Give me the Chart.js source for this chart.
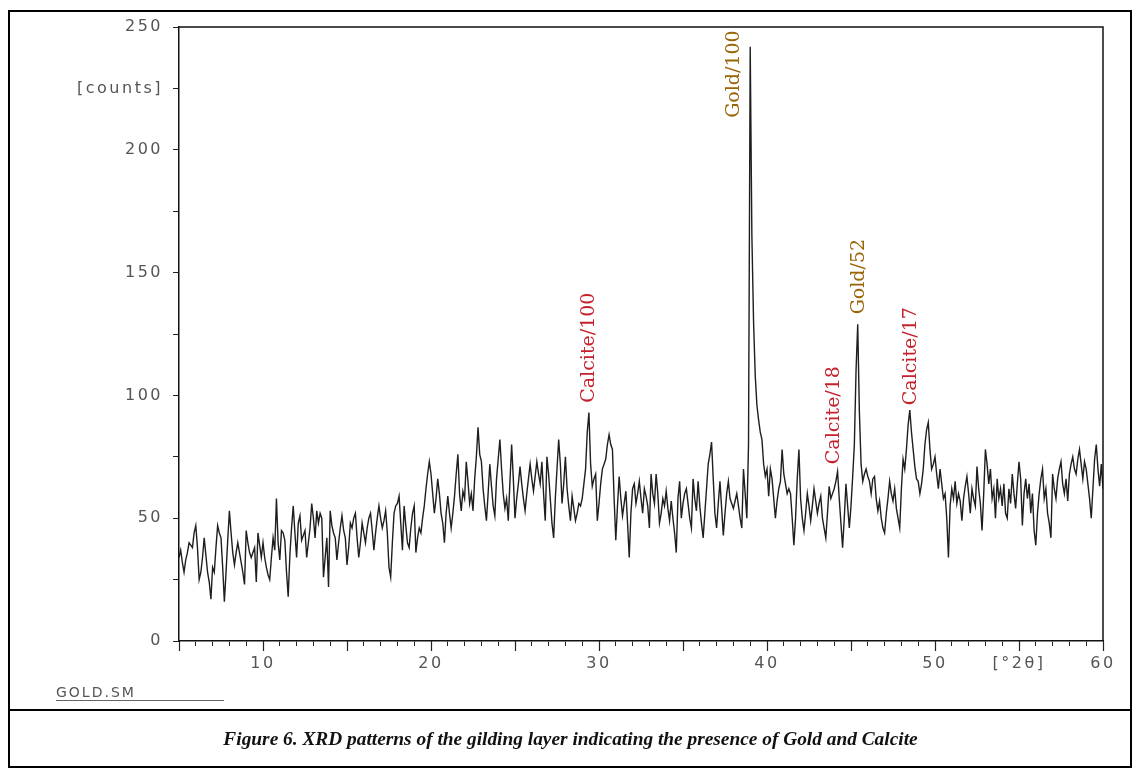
<!DOCTYPE html>
<html><head><meta charset="utf-8">
<script src="https://cdn.jsdelivr.net/npm/chart.js@4.4.1/dist/chart.umd.min.js"></script>
<style>
html,body{margin:0;padding:0;background:#fff;width:1141px;height:769px;overflow:hidden}
#wrap{position:absolute;left:0;top:0;width:1141px;height:769px}
#frame{position:absolute;left:8px;top:10px;width:1120px;height:754px;border:2px solid #000;pointer-events:none}
#divider{position:absolute;left:8px;top:709px;width:1124px;height:2px;background:#000}
#caption{position:absolute;left:0;top:711px;width:1141px;height:56px;line-height:56px;text-align:center;font-style:italic;font-weight:bold;font-family:"Liberation Serif",serif;color:#111}
#fname{position:absolute;left:56px;top:685px;width:168px;border-bottom:1px solid #666;font:14px "DejaVu Sans",sans-serif;color:#555;letter-spacing:2px;line-height:15px}
</style>
</head><body>
<div id="wrap"><canvas id="c" width="1141" height="769"></canvas></div>
<div id="frame"></div>
<div id="divider"></div>
<div id="fname">GOLD.SM</div>
<div id="caption"></div>
<script>
// ---- data ----
const twoThetaStart = 5;      // first sample, °2θ
const twoThetaStep = 0.1;     // sampling step, °2θ
const counts = [
  34,37,32,28,33,36,40,39,38,44,   // 5
  47,38,25,28,34,42,35,28,24,17,   // 6
  30,28,38,47,44,42,30,16,28,41,   // 7
  53,44,36,31,36,40,36,32,28,23,   // 8
  45,40,36,34,36,38,24,44,39,34,   // 9
  40,34,30,27,25,34,42,37,58,40,   // 10
  33,45,44,41,28,18,35,46,55,44,   // 11
  34,48,51,41,43,45,34,40,46,56,   // 12
  50,42,53,48,52,50,26,34,42,22,   // 13
  53,47,44,42,33,40,46,51,45,42,   // 14
  31,38,48,46,50,52,42,34,40,48,   // 15
  44,40,46,50,52,45,37,44,50,55,   // 16
  50,46,49,53,44,30,26,40,52,55,   // 17
  56,59,48,37,55,47,40,38,46,52,   // 18
  55,36,42,46,44,50,55,62,68,73,   // 19
  68,60,52,58,66,60,52,48,40,52,   // 20
  59,52,46,52,59,68,76,60,53,61,   // 21
  58,73,65,56,60,53,66,75,87,76,   // 22
  73,62,55,49,60,72,63,55,51,66,   // 23
  74,82,70,60,54,58,49,65,80,66,   // 24
  50,58,64,71,64,58,53,60,66,72,   // 25
  66,61,67,73,68,64,73,60,49,75,   // 26
  68,58,48,42,58,70,82,72,56,64,   // 27
  75,62,55,49,59,54,49,52,56,55,   // 28
  58,64,70,85,93,72,63,66,68,49,   // 29
  56,64,70,72,74,80,84,80,78,58,   // 30
  41,55,67,58,51,56,61,48,34,52,   // 31
  62,64,56,60,65,58,52,62,59,55,   // 32
  46,68,60,56,68,60,48,52,58,55,   // 33
  61,54,49,57,50,44,36,58,65,50,   // 34
  56,60,62,56,50,46,66,58,53,65,   // 35
  55,48,42,52,62,72,76,81,66,52,   // 36
  46,56,65,54,43,52,60,65,58,56,   // 37
  54,57,60,55,50,46,70,60,50,80,   // 38
  242,165,130,108,96,90,85,82,72,67, // 39
  70,59,70,66,58,50,57,62,65,78,   // 40
  68,64,60,62,60,50,39,50,66,78,   // 41
  58,50,45,52,60,55,49,55,62,57,   // 42
  52,56,59,50,46,42,52,63,58,60,   // 43
  62,65,69,58,48,38,50,64,55,46,   // 44
  55,67,80,110,129,93,72,65,68,70, // 45
  67,65,60,66,67,58,53,57,50,46,   // 46
  44,52,58,65,60,57,62,54,50,46,   // 47
  62,74,70,78,88,94,85,78,71,66,   // 48
  65,60,64,70,80,86,89,78,70,72,   // 49
  75,68,62,70,64,58,60,50,34,55,   // 50
  62,58,65,56,60,57,49,58,63,67,   // 51
  60,52,62,58,55,71,62,56,45,60,   // 52
  78,72,64,70,58,62,50,66,58,62,   // 53
  55,64,52,50,62,56,68,60,54,64,   // 54
  73,66,47,60,66,58,64,52,60,45,   // 55
  39,52,60,66,70,58,62,52,48,42,   // 56
  68,62,58,66,70,73,64,60,66,57,   // 57
  68,72,75,70,68,74,78,72,66,73,   // 58
  70,64,58,50,62,74,80,70,63,72,   // 59
  62                               // 60
];
const xTickLabels = {10:'10',20:'20',30:'30',40:'40',50:'50',55:'[°2θ]',60:'60'};
const yTickLabels = {0:'0',50:'50',100:'100',150:'150',200:'200',225:'[counts]',250:'250'};
const peakNames = ['Calcite/100','Gold/100','Calcite/18','Gold/52','Calcite/17'];
const peakTwoTheta = [29.4, 38.05, 44.0, 45.5, 48.6];
const peakLabelBase = [97, 213, 72, 133, 96];
const peakPhase = ['calcite','gold','calcite','gold','calcite'];
const captionText = 'Figure 6. XRD patterns of the gilding layer indicating the presence of Gold and Calcite';

// ---- build ----
const points = counts.map((v,i)=>({x: +(twoThetaStart + i*twoThetaStep).toFixed(2), y: v}));
const phaseColor = {calcite:'#c4222c', gold:'#9a6508'};

const cap = document.getElementById('caption');
cap.textContent = captionText;
(function fitCaption(){
  const m = document.createElement('canvas').getContext('2d');
  m.font = 'italic bold 20px "Liberation Serif"';
  const w = m.measureText(captionText).width;
  cap.style.fontSize = (20*695/w).toFixed(2)+'px';
})();

function spaced(chart){ try{ chart.ctx.letterSpacing='2.5px'; }catch(e){} }
const decor = {
  id:'decor',
  beforeUpdate: spaced,
  beforeLayout: spaced,
  beforeDraw: spaced,
  afterDraw(chart){
    const {ctx, chartArea:a, scales:{x,y}} = chart;
    ctx.save();
    try{ ctx.letterSpacing='0px'; }catch(e){}
    ctx.strokeStyle='#111'; ctx.lineWidth=1.5;
    ctx.beginPath();
    ctx.moveTo(a.left, a.top); ctx.lineTo(a.right, a.top); ctx.lineTo(a.right, a.bottom);
    ctx.stroke();
    // longer ticks every 5 °2θ
    ctx.lineWidth=1.2; ctx.strokeStyle='#222';
    for(let v=5; v<=60; v+=5){
      const px = Math.round(x.getPixelForValue(v))+0.5;
      ctx.beginPath(); ctx.moveTo(px, a.bottom); ctx.lineTo(px, a.bottom+10); ctx.stroke();
    }
    // peak labels
    ctx.font = '19px "DejaVu Serif", serif';
    ctx.textAlign='left'; ctx.textBaseline='middle';
    peakNames.forEach((t,i)=>{
      const px = x.getPixelForValue(peakTwoTheta[i]);
      const py = y.getPixelForValue(peakLabelBase[i]);
      ctx.save(); ctx.translate(px, py); ctx.rotate(-Math.PI/2);
      ctx.fillStyle = phaseColor[peakPhase[i]];
      ctx.fillText(t, 0, 0);
      ctx.restore();
    });
    ctx.restore();
  }
};

new Chart(document.getElementById('c'), {
  type:'line',
  data:{datasets:[{data:points, borderColor:'#1e1e1e', borderWidth:1.4, pointRadius:0, tension:0, fill:false}]},
  options:{
    responsive:false, animation:false, devicePixelRatio:1,
    layout:{padding:{top:27, right:38, bottom:88, left:0}},
    plugins:{legend:{display:false}, tooltip:{enabled:false}},
    scales:{
      x:{type:'linear', min:5, max:60,
        ticks:{stepSize:1, autoSkip:false, maxRotation:0, minRotation:0, padding:8, color:'#555',
          font:{family:'DejaVu Sans', size:16}, callback:v=>xTickLabels[v]!==undefined?xTickLabels[v]:''},
        grid:{drawOnChartArea:false, drawTicks:true, tickLength:5, color:'#222', lineWidth:1},
        border:{display:true, color:'#111', width:1.5},
        afterFit(s){ s.height = 40; }
      },
      y:{type:'linear', min:0, max:250,
        ticks:{stepSize:25, autoSkip:false, padding:10, color:'#555',
          font:{family:'DejaVu Sans', size:16}, callback:v=>yTickLabels[v]!==undefined?yTickLabels[v]:''},
        grid:{drawOnChartArea:false, drawTicks:true, tickLength:6, color:'#222', lineWidth:1},
        border:{display:true, color:'#111', width:1.5},
        afterFit(s){ s.width = 179; }
      }
    }
  },
  plugins:[decor]
});
</script>
</body></html>
